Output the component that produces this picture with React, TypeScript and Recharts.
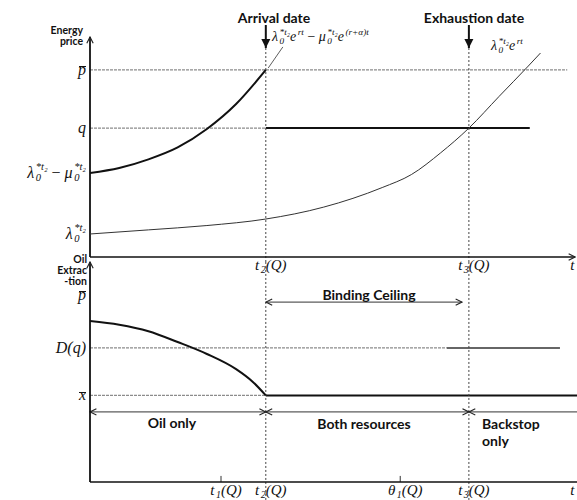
import React from 'react';
import { LineChart, Line, XAxis, YAxis, ReferenceLine } from 'recharts';

// time positions (same scale in both panels)
const T1 = 26.9;
const T2 = 36.1;
const THETA1 = 63.7;
const T3 = 77.8;
const T_END = 98;

// energy price panel
const PBAR = 86.2;
const Q = 59.4;
const LAM_MU = 38.7;
const LAM = 10.6;
const priceTime = [0, 6, 12, 18, 24, 30, 36.1];
const priceBeforeArrival = [38.7, 41, 45, 50.5, 59, 70.5, 86.2];
const shadowTime = [0, 12, 24, 36.1, 48, 60, 66, 72, 77.8, 84, 90, 92.5];
const shadowPrice = [10.6, 12.5, 14.5, 17.5, 23, 32, 38, 48, 59.4, 74, 88, 94];

// oil extraction panel
const PBAR_X = 86.2;
const DQ = 61.8;
const XBAR = 39.9;
const CEILING = 82.9;
const REGIME = 32.3;
const extractionTime = [0, 6, 12, 18, 24, 30, 33.5, 36.1];
const extraction = [74.2, 72.5, 69.5, 64.5, 59, 52, 46, 39.9];

type Piece = { t: string; sub?: string; sup?: string; bar?: boolean; up?: boolean };

const lam0: Piece = { t: 'λ', sub: '0', sup: '*t₂' };
const mu0: Piece = { t: 'μ', sub: '0', sup: '*t₂' };

const topTicks = [LAM, LAM_MU, Q, PBAR];
const topTickLabels: Piece[][] = [
  [lam0],
  [lam0, { t: ' − ', up: true }, mu0],
  [{ t: 'q' }],
  [{ t: 'p', bar: true }],
];
const topXTicks = [T2, T3, T_END];
const topXLabels: Piece[][] = [
  [{ t: 't', sub: '2' }, { t: '(Q)' }],
  [{ t: 't', sub: '3' }, { t: '(Q)' }],
  [{ t: 't' }],
];
const botTicks = [XBAR, DQ, PBAR_X];
const botTickLabels: Piece[][] = [
  [{ t: 'x', bar: true }],
  [{ t: 'D(q)' }],
  [{ t: 'p', bar: true }],
];
const botXTicks = [T1, T2, THETA1, T3, T_END];
const botXLabels: Piece[][] = [
  [{ t: 't', sub: '1' }, { t: '(Q)' }],
  [{ t: 't', sub: '2' }, { t: '(Q)' }],
  [{ t: 'θ', sub: '1' }, { t: '(Q)' }],
  [{ t: 't', sub: '3' }, { t: '(Q)' }],
  [{ t: 't' }],
];

const sans = 'Lato, "Open Sans", sans-serif';
const serif = '"Liberation Serif", "DejaVu Serif", serif';

const Base = ({ p }: { p: Piece }) =>
  p.bar ? (
    <span style={{ position: 'relative', display: 'inline-block' }}>
      {p.t}
      <span style={{ position: 'absolute', left: '8%', right: '-4%', top: '0.26em', borderTop: '1px solid #111' }} />
    </span>
  ) : (
    <span>{p.t}</span>
  );

const MathText = ({ parts, size = 16 }: { parts: Piece[]; size?: number }) => (
  <span style={{ fontFamily: serif, fontStyle: 'italic', fontSize: size, whiteSpace: 'nowrap', display: 'inline-flex', alignItems: 'center', color: '#111', lineHeight: 1 }}>
    {parts.map((p, i) => (
      <span key={i} style={{ display: 'inline-flex', alignItems: 'center', fontStyle: p.up ? 'normal' : 'italic', whiteSpace: 'pre' }}>
        <Base p={p} />
        {(p.sub || p.sup) && (
          <span style={{ display: 'inline-flex', flexDirection: 'column', fontSize: size * 0.66, lineHeight: 1, marginLeft: 1.5 }}>
            <span>{p.sup ?? '\u00a0'}</span>
            <span>{p.sub ?? '\u00a0'}</span>
          </span>
        )}
      </span>
    ))}
  </span>
);

const yTick = (ticks: number[], labels: Piece[][]) => (props: any) => {
  const { y, payload } = props;
  const idx = ticks.indexOf(payload.value);
  if (idx < 0) return <g />;
  return (
    <foreignObject x={0} y={y - 15} width={86} height={30}>
      <div style={{ width: 86, height: 30, display: 'flex', alignItems: 'center', justifyContent: 'flex-end' }}>
        <MathText parts={labels[idx]} size={16} />
      </div>
    </foreignObject>
  );
};

const xTick = (ticks: number[], labels: Piece[][]) => (props: any) => {
  const { x, y, payload } = props;
  const idx = ticks.indexOf(payload.value);
  if (idx < 0) return <g />;
  return (
    <foreignObject x={x - 30 + 5} y={y - 10} width={60} height={20}>
      <div style={{ width: 60, height: 20, display: 'flex', alignItems: 'center', justifyContent: 'center' }}>
        <MathText parts={labels[idx]} size={15} />
      </div>
    </foreignObject>
  );
};

const Markers = ({ p }: { p: string }) => (
  <defs>
    <marker id={`${p}solid`} viewBox="0 0 10 10" refX="10" refY="5" markerWidth="9" markerHeight="10" orient="auto" markerUnits="userSpaceOnUse">
      <path d="M0,0 L10,5 L0,10 z" fill="#111" />
    </marker>
    <marker id={`${p}open`} viewBox="0 0 10 10" refX="9" refY="5" markerWidth="8" markerHeight="8" orient="auto-start-reverse" markerUnits="userSpaceOnUse">
      <path d="M1,1 L9,5 L1,9" fill="none" stroke="#222" strokeWidth="1.4" />
    </marker>
  </defs>
);

const Note = ({ left, top, center, children, style }: { left: number; top: number; center?: boolean; children: React.ReactNode; style?: React.CSSProperties }) => (
  <div style={{ position: 'absolute', left, top, transform: center ? 'translate(-50%, -50%)' : 'translateY(-50%)', whiteSpace: 'nowrap', ...style }}>
    {children}
  </div>
);

const boldText: React.CSSProperties = { fontFamily: sans, fontWeight: 700, fontSize: 14, color: '#111' };
const axisTitle: React.CSSProperties = { fontFamily: sans, fontWeight: 700, fontSize: 10.5, color: '#111', textAlign: 'right', lineHeight: '11px' };

const dotted = { stroke: '#444', strokeWidth: 1, strokeDasharray: '2 2' };
const greyDotted = { stroke: '#8c8c8c', strokeWidth: 1.3, strokeDasharray: '3 1' };

export default function App() {
  const upper = priceTime.map((t, i) => ({ t, v: priceBeforeArrival[i] }));
  const shadow = shadowTime.map((t, i) => ({ t, v: shadowPrice[i] }));
  const oil = extractionTime.map((t, i) => ({ t, v: extraction[i] }));

  return (
    <div style={{ position: 'absolute', left: 0, top: 0, width: 577, height: 500, background: '#fff', overflow: 'hidden' }}>
      <div style={{ position: 'absolute', left: 0, top: 0 }}>
        <LineChart width={577} height={280} margin={{ top: 40, right: 0, bottom: 0, left: 0 }}>
          <Markers p="a" />
          <XAxis type="number" dataKey="t" domain={[0, 100]} allowDataOverflow ticks={topXTicks} interval={0} axisLine={false} tickLine={false} height={23} tick={xTick(topXTicks, topXLabels)} />
          <YAxis type="number" domain={[0, 100]} allowDataOverflow ticks={topTicks} interval={0} axisLine={false} tickLine={false} width={90} tick={yTick(topTicks, topTickLabels)} />

          <ReferenceLine segment={[{ x: 0, y: PBAR }, { x: 98, y: PBAR }]} {...greyDotted} ifOverflow="visible" />
          <ReferenceLine segment={[{ x: 0, y: Q }, { x: T2, y: Q }]} {...greyDotted} ifOverflow="visible" />
          <ReferenceLine segment={[{ x: T2, y: Q }, { x: 90.3, y: Q }]} stroke="#111" strokeWidth={2} ifOverflow="visible" />

          <ReferenceLine segment={[{ x: T2, y: 96.3 }, { x: T2, y: -2.3 }]} {...dotted} ifOverflow="visible" />
          <ReferenceLine segment={[{ x: T3, y: 96.3 }, { x: T3, y: -2.3 }]} {...dotted} ifOverflow="visible" />
          <ReferenceLine segment={[{ x: T2, y: 106.9 }, { x: T2, y: 96.3 }]} stroke="#111" strokeWidth={2} markerEnd="url(#asolid)" ifOverflow="visible" />
          <ReferenceLine segment={[{ x: T3, y: 106.9 }, { x: T3, y: 96.3 }]} stroke="#111" strokeWidth={2} markerEnd="url(#asolid)" ifOverflow="visible" />
          <ReferenceLine segment={[{ x: 39.6, y: 96.8 }, { x: 36.6, y: 87.1 }]} stroke="#333" strokeWidth={0.8} ifOverflow="visible" />

          <ReferenceLine segment={[{ x: 0, y: 0 }, { x: 0, y: 101.4 }]} stroke="#111" strokeWidth={1.8} markerEnd="url(#aopen)" ifOverflow="visible" />
          <ReferenceLine segment={[{ x: 0, y: 0 }, { x: 99.6, y: 0 }]} stroke="#111" strokeWidth={1.5} markerEnd="url(#aopen)" ifOverflow="visible" />

          <Line data={shadow} dataKey="v" type="monotone" stroke="#333" strokeWidth={1} dot={false} isAnimationActive={false} />
          <Line data={upper} dataKey="v" type="monotone" stroke="#111" strokeWidth={2} dot={false} isAnimationActive={false} />
        </LineChart>
      </div>

      <div style={{ position: 'absolute', left: 0, top: 255 }}>
        <LineChart width={577} height={245} margin={{ top: 10, right: 0, bottom: 0, left: 0 }}>
          <Markers p="b" />
          <XAxis type="number" dataKey="t" domain={[0, 100]} allowDataOverflow ticks={botXTicks} interval={0} axisLine={false} tickLine={false} height={18} tick={xTick(botXTicks, botXLabels)} />
          <YAxis type="number" domain={[0, 100]} allowDataOverflow ticks={botTicks} interval={0} axisLine={false} tickLine={false} width={90} tick={yTick(botTicks, botTickLabels)} />

          <ReferenceLine segment={[{ x: 0, y: DQ }, { x: 73.3, y: DQ }]} {...greyDotted} ifOverflow="visible" />
          <ReferenceLine segment={[{ x: 73.3, y: DQ }, { x: 96.5, y: DQ }]} stroke="#333" strokeWidth={1.5} ifOverflow="visible" />
          <ReferenceLine segment={[{ x: 0, y: XBAR }, { x: T2, y: XBAR }]} {...greyDotted} ifOverflow="visible" />
          <ReferenceLine segment={[{ x: T2, y: XBAR }, { x: 100, y: XBAR }]} stroke="#111" strokeWidth={2} ifOverflow="visible" />

          <ReferenceLine segment={[{ x: T2, y: 101.4 }, { x: T2, y: -8.3 }]} {...dotted} ifOverflow="visible" />
          <ReferenceLine segment={[{ x: T3, y: 101.4 }, { x: T3, y: -8.3 }]} {...dotted} ifOverflow="visible" />

          <ReferenceLine segment={[{ x: T2, y: CEILING }, { x: 76.4, y: CEILING }]} stroke="#333" strokeWidth={1} markerStart="url(#bopen)" markerEnd="url(#bopen)" ifOverflow="visible" />
          <ReferenceLine segment={[{ x: 0, y: REGIME }, { x: T2, y: REGIME }]} stroke="#333" strokeWidth={1} markerStart="url(#bopen)" markerEnd="url(#bopen)" ifOverflow="visible" />
          <ReferenceLine segment={[{ x: T2, y: REGIME }, { x: T3, y: REGIME }]} stroke="#333" strokeWidth={1} markerStart="url(#bopen)" markerEnd="url(#bopen)" ifOverflow="visible" />
          <ReferenceLine segment={[{ x: T3, y: REGIME }, { x: 100, y: REGIME }]} stroke="#333" strokeWidth={1} markerStart="url(#bopen)" ifOverflow="visible" />

          <ReferenceLine segment={[{ x: T1, y: 0 }, { x: T1, y: 2.8 }]} stroke="#333" strokeWidth={1} ifOverflow="visible" />
          <ReferenceLine segment={[{ x: THETA1, y: 0 }, { x: THETA1, y: 2.8 }]} stroke="#333" strokeWidth={1} ifOverflow="visible" />

          <ReferenceLine segment={[{ x: 0, y: 0 }, { x: 0, y: 101.4 }]} stroke="#111" strokeWidth={1.8} markerEnd="url(#bopen)" ifOverflow="visible" />
          <ReferenceLine segment={[{ x: 0, y: 0 }, { x: 100, y: 0 }]} stroke="#111" strokeWidth={1.5} ifOverflow="visible" />

          <Line data={oil} dataKey="v" type="monotone" stroke="#111" strokeWidth={2} dot={false} isAnimationActive={false} />
        </LineChart>
      </div>

      <Note left={83} top={36} style={{ ...axisTitle, transform: 'translate(-100%, -50%)' }}>Energy<br />price</Note>
      <Note left={87} top={270} style={{ ...axisTitle, transform: 'translate(-100%, -50%)' }}>Oil<br />Extrac<br />-tion</Note>

      <Note left={274} top={17} center style={boldText}>Arrival date</Note>
      <Note left={474} top={17} center style={boldText}>Exhaustion date</Note>
      <Note left={272} top={37}><MathText size={14} parts={[lam0, { t: 'e', sup: 'rt' }, { t: ' − ', up: true }, mu0, { t: 'e', sup: '(r+α)t' }]} /></Note>
      <Note left={491} top={46}><MathText size={14} parts={[lam0, { t: 'e', sup: 'rt' }]} /></Note>

      <Note left={369} top={294} center style={boldText}>Binding Ceiling</Note>
      <Note left={172} top={422} center style={boldText}>Oil only</Note>
      <Note left={364} top={423} center style={boldText}>Both resources</Note>
      <Note left={482} top={432} style={{ ...boldText, lineHeight: '17px' }}>Backstop<br />only</Note>
    </div>
  );
}
